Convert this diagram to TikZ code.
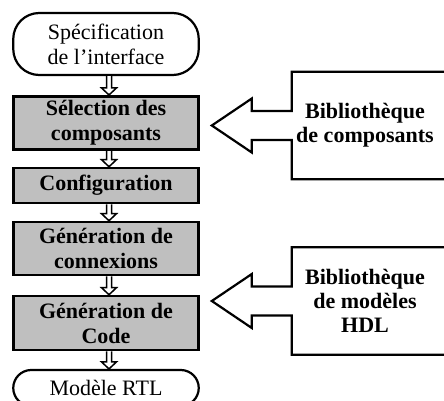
\documentclass[tikz,border=0pt]{standalone}
\usepackage{fontspec}
\setmainfont{Liberation Serif}
\usetikzlibrary{calc}

% hollow block arrow between two steps
\newcommand{\flowarrow}[2]{%
  \draw[flowline] ($(#1.south)+(0.5,0)$) -- ($(#2.north)+(0.5,-7)$) -- ($(#2.north)+(-4.5,-7)$)
    -- ($(#2.north)+(3,0)$) -- ($(#2.north)+(10.5,-7)$) -- ($(#2.north)+(5.5,-7)$) -- ($(#1.south)+(5.5,0)$);
}
% library box with its big arrow pointing left
\newcommand{\libcallout}[1]{%
  \draw[libline] ($(#1.north east)+(20,0)$) -- (#1.north west) -- ($(#1.west)+(0,-14.5)$)
    -- ++(-40,0) -- ++(0,-12.5) -- ($(#1.west)+(-80,0)$) -- ($(#1.west)+(-40,27)$)
    -- ++(0,-12.5) -- ($(#1.west)+(0,14.5)$) -- (#1.south west) -- ($(#1.south east)+(20,0)$);
}

\begin{document}
\begin{tikzpicture}[x=1pt, y=-1pt,
    every node/.style={font=\fontsize{22}{25}\selectfont, align=center, inner sep=0pt},
    terminal/.style={draw, line width=2.2pt, fill=white, minimum width=185.5pt, rounded corners=26pt},
    step box/.style={draw, line width=2.6pt, fill=gray!50, minimum width=185.5pt, font=\fontsize{22}{25}\selectfont\bfseries},
    flowline/.style={draw, fill=white, line width=1.5pt, miter limit=10},
    libline/.style={draw, line width=2.2pt, line join=miter},
    libtext/.style={minimum width=146pt, minimum height=107pt, font=\fontsize{22}{24}\selectfont\bfseries}]
	\useasboundingbox (0,0) rectangle (444,401);

	% WRITE THE FLOW STEPS
	\node[terminal, minimum height=62pt] (spec) at (106,44) {Spécification\\de l’interface};
	\node[step box, minimum height=53.5pt] (select) at (106,123) {Sélection des\\composants};
	\node[step box, minimum height=35pt] (config) at (106,185.5) {Configuration};
	\node[step box, minimum height=53pt] (conn) at (106,248.5) {Génération de\\connexions};
	\node[step box, minimum height=54pt] (code) at (106,323) {Génération de\\Code};
	\node[terminal, minimum height=36pt, rounded corners=18pt] (rtl) at (106,388) {Modèle RTL};

	% SMALL ARROWS BETWEEN STEPS
	\flowarrow{spec}{select}
	\flowarrow{select}{config}
	\flowarrow{config}{conn}
	\flowarrow{conn}{code}
	\flowarrow{code}{rtl}

	% LIBRARIES ON THE RIGHT
	\node[libtext] (libcomp) at (365,125.5) {Bibliothèque\\de composants};
	\libcallout{libcomp}
	\node[libtext] (libhdl) at (365,301) {Bibliothèque\\de modèles\\HDL};
	\libcallout{libhdl}
\end{tikzpicture}
\end{document}
